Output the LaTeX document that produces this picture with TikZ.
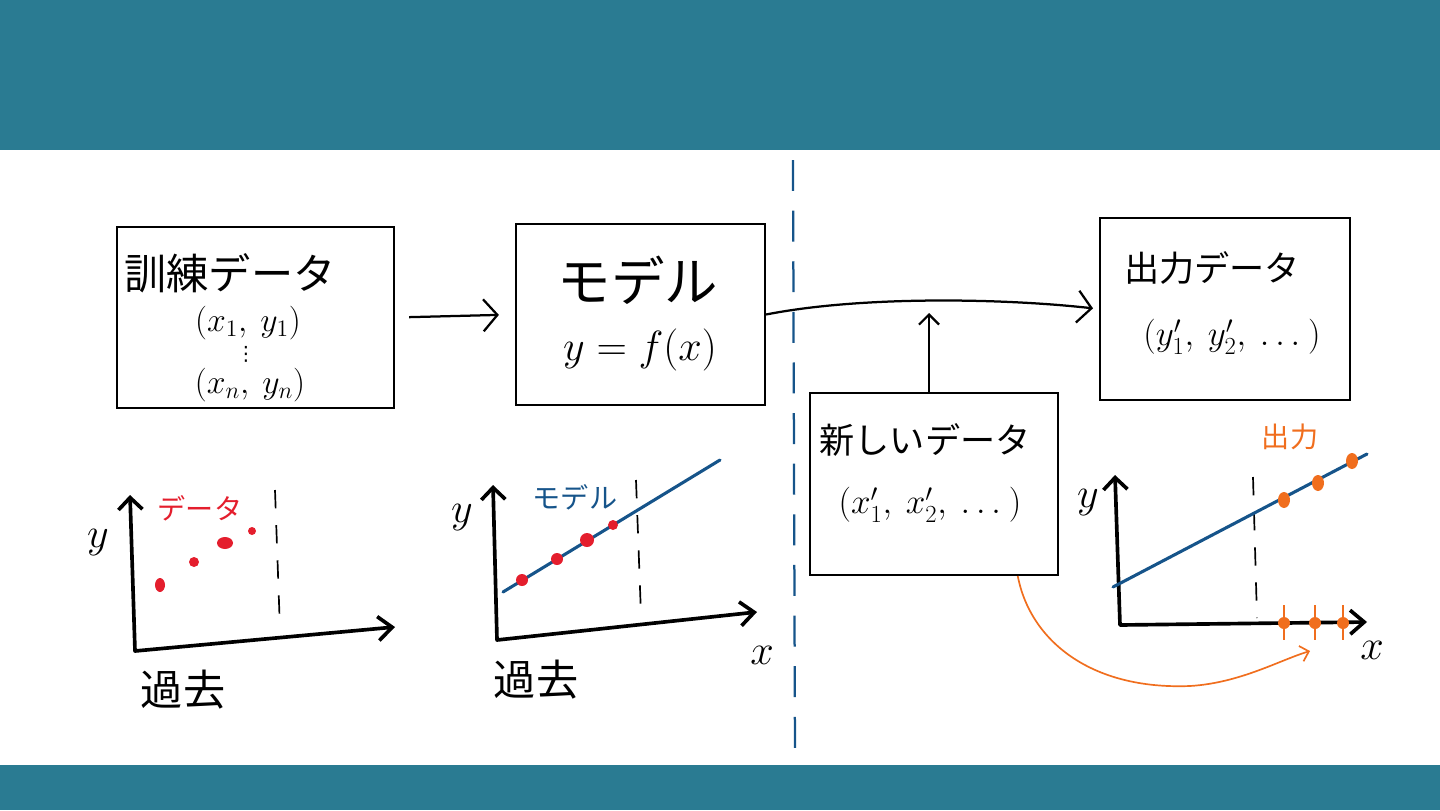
\RequirePackage{fix-cm}
\documentclass[tikz,border=0pt]{standalone}
\usepackage{fontspec}
\setmainfont{Noto Sans CJK JP}
\newfontfamily\symbolFont{DejaVu Sans}
\usetikzlibrary{arrows.meta, positioning, calc}
\definecolor{bandFill}{RGB}{42,123,146}
\definecolor{dataRed}{RGB}{228,30,45}
\definecolor{modelBlue}{RGB}{22,84,138}
\definecolor{outOrange}{RGB}{240,110,30}
\newcommand{\sizeHuge}{\fontsize{38}{44}\selectfont}
\newcommand{\sizeBig}{\fontsize{30}{36}\selectfont}
\newcommand{\sizeMid}{\fontsize{25}{30}\selectfont}
\newcommand{\sizeSmall}{\fontsize{24}{28}\selectfont}
\newcommand{\sizeTag}{\fontsize{20}{24}\selectfont}
\newcommand{\sizeTiny}{\fontsize{14}{16}\selectfont}
\tikzset{
  box/.style={
    draw=black,
    line width=1.4pt,
    fill=white,
    inner sep=0pt
  },
  flow/.style={-{Straight Barb[length=3.5mm,width=8mm]}, line width=1.6pt},
  lift/.style={-{Straight Barb[length=2.5mm,width=5mm]}, line width=1.6pt},
  hint/.style={-{Straight Barb[length=2mm,width=4mm]}, line width=1.2pt, draw=outOrange},
  axis/.style={{Straight Barb[length=3mm,width=6mm]}-{Straight Barb[length=3.5mm,width=6mm]}, line width=2.6pt, line join=round},
  guide/.style={dash pattern=on 13pt off 12pt, line width=1.2pt},
  sep/.style={draw=modelBlue, line width=1.6pt, dash pattern=on 22pt off 14pt},
  trend/.style={draw=modelBlue, line width=2.2pt, line cap=round},
  tag/.style={font=\sizeTag, inner sep=1pt},
  axislabel/.style={font=\sizeBig, inner sep=0pt}
}
\begin{document}
\begin{tikzpicture}[x=0.025cm, y=-0.025cm]
  \useasboundingbox (0,0) rectangle (1440,810);
  % bands
  \fill[bandFill] (0,0) rectangle (1440,150);
  \fill[bandFill] (0,765) rectangle (1440,810);

  % boxes
  \node[box, minimum width=6.93cm, minimum height=4.53cm] (train) at (255.5,317.5) {};
  \node[font=\sizeBig] (trainTitle) at (230,273) {訓練データ};
  \node[font=\sizeSmall, inner sep=0pt] (trainFirst) at (248,323) {$(x_1,\ y_1)$};
  \node[font=\sizeTiny\symbolFont, inner sep=0pt] (trainDots) at (246,354) {⋮};
  \node[font=\sizeSmall, inner sep=0pt] (trainLast) at (250,385) {$(x_n,\ y_n)$};

  \node[box, minimum width=6.23cm, minimum height=4.53cm] (model) at (640.5,314.5) {};
  \node[font=\sizeHuge] (modelTitle) at (638,280) {モデル};
  \node[font=\sizeBig] (modelFormula) at (640,350) {$y = f(x)$};

  \node[box, minimum width=6.25cm, minimum height=4.55cm] (result) at (1225,309) {};
  \node[font=\sizeMid] (resultTitle) at (1212,268) {出力データ};
  \node[font=\sizeMid] (resultValues) at (1232,337) {$(y'_1,\ y'_2,\ \dots\ )$};

  \node[box, minimum width=6.2cm, minimum height=4.55cm] (fresh) at (934,484) {};
  \node[font=\sizeMid] (freshTitle) at (925,440) {新しいデータ};
  \node[font=\sizeMid] (freshValues) at (930,505) {$(x'_1,\ x'_2,\ \dots\ )$};

  % connectors
  \coordinate (meet) at (929,313);
  \coordinate (landing) at (1310,651);
  \draw[flow, shorten <=3.5mm, shorten >=4mm] (train.east) -- (model.west);
  \draw[flow, shorten >=1.5mm] (model.east) .. controls (860,296) and (1000,298) .. (result.west);
  \draw[lift] (fresh.north -| meet) -- (meet);
  \draw[hint] ($(fresh.south)!0.67!(fresh.south east)$) .. controls (1030,640) and (1090,690) .. (1190,686) .. controls (1240,683) and (1280,660) .. (landing);

  % separator
  \draw[sep] (793,160) -- (795,760);

  % past data
  \draw[axis] (130,495) -- (135,651) -- (395,627);
  \draw[guide] (275,490) -- (280,630);
  \fill[dataRed] (160,585) ellipse (5 and 7);
  \fill[dataRed] (194,562) circle (5);
  \fill[dataRed] (225,543) ellipse (8 and 6);
  \fill[dataRed] (252,531) circle (4);
  \node[axislabel] (pastY) at (98,543) {$y$};
  \node[tag, text=dataRed] (pastTag) at (200,508) {データ};
  \node[font=\sizeBig] (pastName) at (183,690) {過去};

  % fitted model
  \draw[axis] (493,485) -- (497,640) -- (757,612);
  \draw[guide] (636,480) -- (641,615);
  \draw[trend] (503,592) -- (720,460);
  \foreach \px/\py/\pr in {522/580/6, 557/559/6, 587/540/7, 613/525/5}
    \fill[dataRed] (\px,\py) circle (\pr);
  \node[axislabel] (fitY) at (462,518) {$y$};
  \node[axislabel] (fitX) at (762,655) {$x$};
  \node[tag, text=modelBlue] (fitTag) at (575,497) {モデル};
  \node[font=\sizeBig] (fitName) at (536,680) {過去};

  % prediction
  \draw[axis] (1115,475) -- (1120,625) -- (1367,622);
  \draw[guide] (1253,477) -- (1257,618);
  \draw[trend] (1113,587) -- (1367,454);
  \foreach \px/\py in {1284/500, 1318/483, 1352/461}
    \fill[outOrange] (\px,\py) ellipse (6 and 8);
  \foreach \px in {1284, 1315, 1343} {
    \draw[outOrange, line width=1.6pt] (\px,605) -- (\px,640);
    \fill[outOrange] (\px,623) circle (6);
  }
  \node[axislabel] (predY) at (1088,503) {$y$};
  \node[axislabel] (predX) at (1372,650) {$x$};
  \node[tag, text=outOrange] (predTag) at (1290,437) {出力};
\end{tikzpicture}
\end{document}
